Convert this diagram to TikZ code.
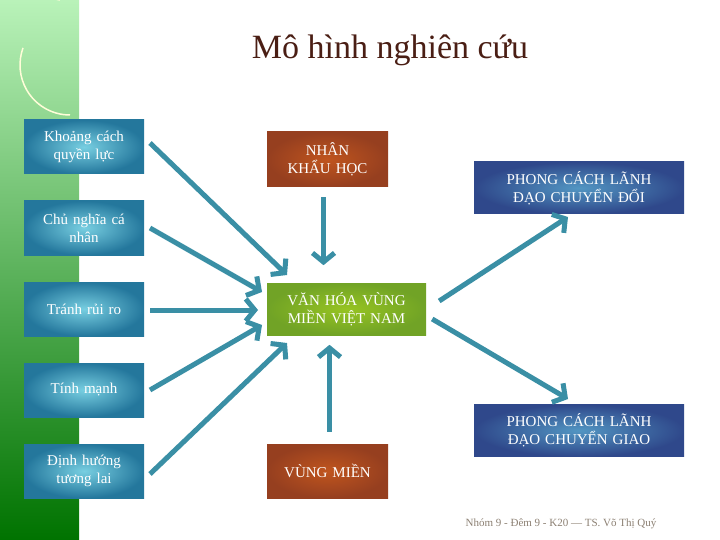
\documentclass[tikz,border=0pt]{standalone}
\usepackage{fontspec}
\setmainfont{Liberation Serif}
\usetikzlibrary{arrows.meta}
\definecolor{arr}{HTML}{3A8FA5}
\definecolor{bluebox}{HTML}{2A8CB8}
\definecolor{redbox}{HTML}{B04A25}
\definecolor{greenbox}{HTML}{7DB52A}
\definecolor{navy}{HTML}{34509A}
\definecolor{titlec}{HTML}{4A1E14}
\tikzset{
 box/.style={draw=none,text=white,align=center,font=\fontsize{15}{18}\selectfont,inner sep=0pt},
 lbox/.style={box,minimum width=120pt,minimum height=54pt,inner color=bluebox!70!cyan!60,outer color=bluebox!85!black,text width=115pt},
 rbox/.style={box,inner color=redbox!80!orange,outer color=redbox!85!black},
 nbox/.style={box,minimum width=210pt,minimum height=52pt,inner color=navy!75!cyan!80,outer color=navy!90!black,text width=205pt},
 link/.style={draw=arr,line width=5pt,-{Straight Barb[length=9pt,width=22pt,line width=5pt]}}
}
\begin{document}
\begin{tikzpicture}[x=1pt,y=-1pt]
\useasboundingbox (0,0) rectangle (720,540);
\fill[white] (0,0) rectangle (720,540);
\shade[top color=green!25!white!90!gray, bottom color=green!45!black] (0,0) rectangle (79,540);
\draw[yellow!15!white,line width=1.5pt] (60,0) arc[start angle=100,end angle=230,radius=60];
\draw[yellow!15!white,line width=1.5pt] (70,115) arc[start angle=90,end angle=200,radius=50];
\node[text=titlec,font=\fontsize{34}{40}\selectfont] (title) at (390,50) {Mô hình nghiên cứu};
\node[lbox] (k) at (84,147) {Khoảng cách\\quyền lực};
\node[lbox] (c) at (84,228) {Chủ nghĩa cá\\nhân};
\node[lbox] (t) at (84,309) {Tránh rủi ro};
\node[lbox] (m) at (84,390) {Tính mạnh};
\node[lbox] (d) at (84,471) {Định hướng\\tương lai};
\node[rbox,minimum width=121pt,minimum height=55pt,text width=118pt] (n) at (327.5,159.5) {NHÂN\\KHẨU HỌC};
\node[box,minimum width=159pt,minimum height=52pt,text width=156pt,inner color=greenbox!80!yellow,outer color=greenbox!90!black] (v) at (346.5,309) {VĂN HÓA VÙNG\\MIỀN VIỆT NAM};
\node[rbox,minimum width=121pt,minimum height=54pt,text width=118pt] (r) at (327.5,471) {VÙNG MIỀN};
\node[nbox] (p1) at (579,188) {PHONG CÁCH LÃNH\\ĐẠO CHUYỂN ĐỔI};
\node[nbox] (p2) at (579,430.5) {PHONG CÁCH LÃNH\\ĐẠO CHUYỂN GIAO};
\node[text=gray!80!brown,font=\fontsize{11}{13}\selectfont] (f) at (561,524) {Nhóm 9 - Đêm 9 - K20 --- TS. Võ Thị Quý};
\coordinate (ka) at (150,143); \coordinate (kb) at (287,275);
\coordinate (ca) at (150,228); \coordinate (cb) at (262,292);
\coordinate (ta) at (150,310); \coordinate (tb) at (258,310);
\coordinate (ma) at (150,390); \coordinate (mb) at (262,325);
\coordinate (da) at (150,474); \coordinate (db) at (287,343);
\draw[link] (ka) -- (kb);
\draw[link] (ca) -- (cb);
\draw[link] (ta) -- (tb);
\draw[link] (ma) -- (mb);
\draw[link] (da) -- (db);
\draw[link] (n.south) ++(-4,10) -- ++(0,68);
\draw[link] (r.north) ++(2,-12) -- ++(0,-87);
\draw[link] (v.east) ++(13,-8) -- (568,217);
\draw[link] (v.east) ++(6,10) -- (568,399);
\end{tikzpicture}
\end{document}
